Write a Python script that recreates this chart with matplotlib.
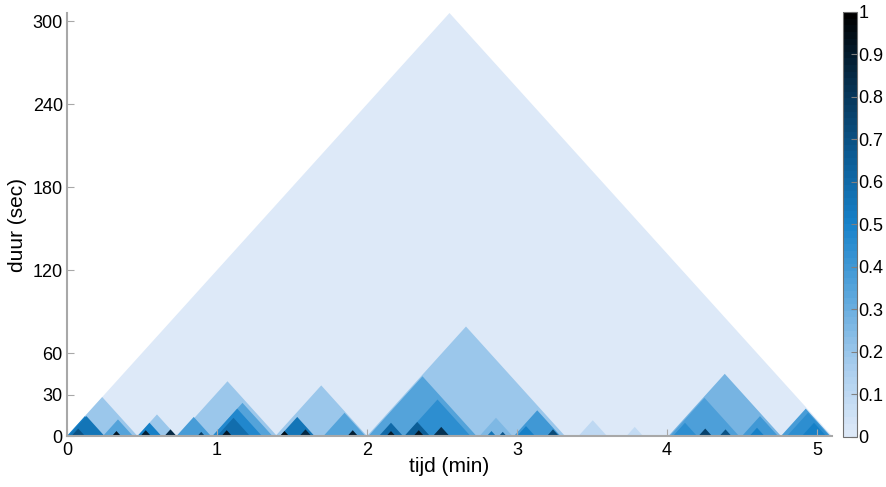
import matplotlib.pyplot as plt
from matplotlib.colors import LinearSegmentedColormap, Normalize
from matplotlib.cm import ScalarMappable

plt.rcParams['font.family'] = ['Liberation Sans', 'DejaVu Sans']

# segments of the piece (minutes) and their score, big ones first
seg_start = [0.00, 0.00, 2.00, 0.74, 4.01, 2.01, 1.39, 0.47, 0.00, 2.25, 4.02,
             0.97, 4.76, 0.97, 2.98, 1.00, 0.24, 0.01, 1.71, 4.50, 0.73, 1.42,
             2.75, 4.80, 3.41, 0.47, 2.25, 2.08, 4.04, 3.00, 4.90, 3.73, 2.44,
             4.55, 4.21, 0.03, 1.55, 0.65, 4.35, 0.49, 3.20, 1.03, 1.87, 2.31,
             2.13, 0.30, 1.42, 0.87, 2.80, 2.88]
seg_end = [5.10, 0.47, 3.32, 1.40, 4.76, 2.73, 2.00, 0.73, 0.24, 2.69, 4.48,
           1.37, 5.09, 1.30, 3.29, 1.22, 0.44, 0.25, 1.99, 4.74, 0.96, 1.65,
           2.97, 5.08, 3.60, 0.63, 2.42, 2.24, 4.20, 3.12, 5.06, 3.84, 2.55,
           4.65, 4.30, 0.12, 1.63, 0.73, 4.43, 0.56, 3.28, 1.10, 1.94, 2.38,
           2.19, 0.36, 1.48, 0.92, 2.86, 2.93]
seg_value = [0.00, 0.20, 0.20, 0.20, 0.28, 0.35, 0.20, 0.20, 0.50, 0.45, 0.36,
             0.35, 0.38, 0.48, 0.40, 0.58, 0.35, 0.55, 0.35, 0.40, 0.38, 0.55,
             0.25, 0.45, 0.10, 0.50, 0.65, 0.60, 0.45, 0.50, 0.50, 0.08, 0.82,
             0.50, 0.75, 0.70, 0.85, 0.85, 0.70, 0.88, 0.72, 0.92, 0.88, 0.92,
             0.90, 0.92, 0.95, 0.78, 0.55, 0.68]

ytick_vals = [0, 30, 60, 120, 180, 240, 300]
cbar_ticks = [0, 0.1, 0.2, 0.3, 0.4, 0.5, 0.6, 0.7, 0.8, 0.9, 1]

cmap = LinearSegmentedColormap.from_list(
    'scape', ['#dde9f8', '#a6cced', '#5aa6dc', '#1782ca', '#0b5a92', '#06304f', '#000000'],
    N=64)
norm = Normalize(0, 1)

fig = plt.figure(figsize=(8.87, 4.87), dpi=100)
ax = fig.add_axes([0.0755, 0.1047, 0.8625, 0.8686])

order = sorted(range(len(seg_start)), key=lambda i: -(seg_end[i] - seg_start[i]))
for i in order:
    a, b = seg_start[i], seg_end[i]
    dur = (b - a) * 60
    ax.fill([a, (a + b) / 2, b], [0, dur, 0], color=cmap(norm(seg_value[i])),
            linewidth=0)

ax.set_xlim(0, 5.1)
ax.set_ylim(0, 306)
ax.set_yticks(ytick_vals)
ax.set_xticks([0, 1, 2, 3, 4, 5])
for s in ['top', 'right']:
    ax.spines[s].set_visible(False)
for s in ['left', 'bottom']:
    ax.spines[s].set_color('#a8a8a8')
    ax.spines[s].set_linewidth(1.5)
ax.tick_params(direction='in', color='#a8a8a8', labelsize=13, length=5)
ax.tick_params(axis='x', pad=4)
ax.tick_params(axis='y', pad=3)
ax.set_xlabel('tijd (min)', fontsize=15, labelpad=-1)
ax.set_ylabel('duur (sec)', fontsize=15, labelpad=4)

cax = fig.add_axes([0.9504, 0.1027, 0.0158, 0.8727])
cb = fig.colorbar(ScalarMappable(norm=norm, cmap=cmap), cax=cax, ticks=cbar_ticks)
cb.ax.set_yticklabels(['0', '0.1', '0.2', '0.3', '0.4', '0.5', '0.6', '0.7', '0.8', '0.9', '1'])
cb.outline.set_edgecolor('#707070')
cb.ax.tick_params(direction='in', color='#808080', labelsize=13, length=4, pad=1)

fig.savefig('out.png', dpi=100)
